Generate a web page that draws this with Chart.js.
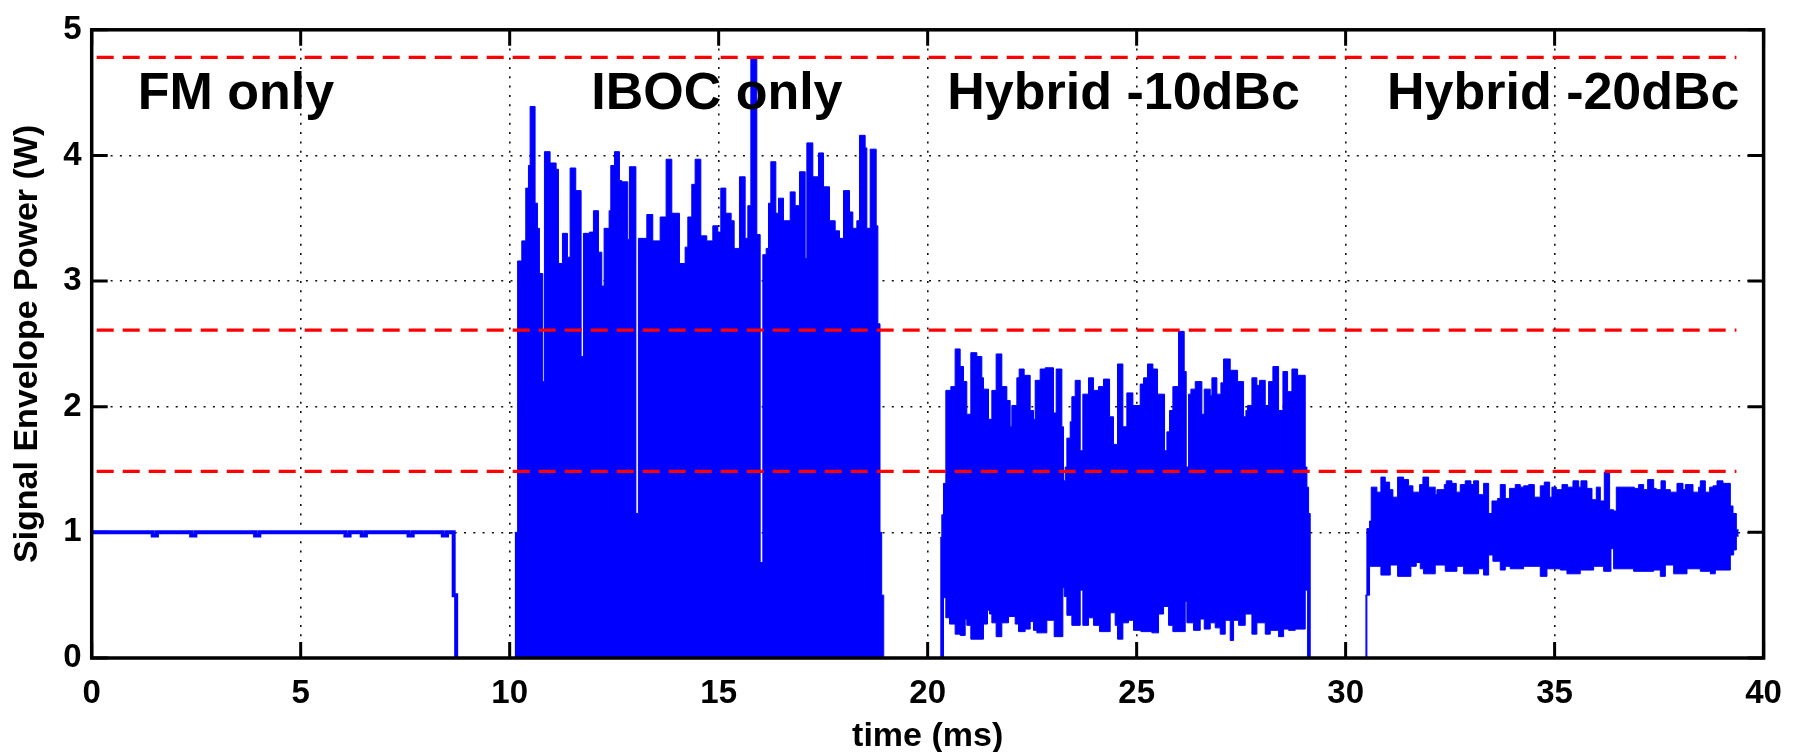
<!DOCTYPE html>
<html>
<head>
<meta charset="utf-8">
<title>Signal envelope power</title>
<script src="https://cdn.jsdelivr.net/npm/chart.js@4.4.1/dist/chart.umd.min.js"></script>
<style>
  html, body { margin: 0; padding: 0; background: #fff; }
</style>
</head>
<body>
<canvas id="chart" width="1798" height="752"></canvas>
<script>
// ------------------- Data -------------------
// FM only: flat envelope at 1 W with a few tiny notches
const fmT = [0, 1.46, 1.56, 2.38, 2.48, 3.91, 4.01, 6.07, 6.17, 6.46, 6.56, 7.58, 7.68, 8.40, 8.50, 8.66, 8.72];
const fmP = [1.0, 0.975, 1.0, 0.975, 1.0, 0.975, 1.0, 0.975, 1.0, 0.975, 1.0, 0.975, 1.0, 0.975, 1.0, 0.5, 0];

// IBOC only: upper envelope (lower envelope sits on zero)
const ibocT = [10.12, 10.19, 10.29, 10.385, 10.449, 10.489, 10.608, 10.664, 10.712, 10.792, 10.832, 10.967,
  11.111, 11.167, 11.262, 11.382, 11.446, 11.581, 11.709, 11.765, 11.908, 12.004, 12.124, 12.204, 12.259,
  12.379, 12.419, 12.507, 12.626, 12.682, 12.826, 12.866, 13.02, 13.08, 13.281, 13.424, 13.600, 13.743,
  13.879, 14.062, 14.198, 14.262, 14.357, 14.437, 14.573, 14.716, 14.860, 14.980, 15.051, 15.171, 15.299,
  15.371, 15.498, 15.634, 15.698, 15.770, 15.913, 15.993, 16.057, 16.136, 16.192, 16.248, 16.368, 16.431,
  16.551, 16.711, 16.830, 16.934, 17.070, 17.110, 17.253, 17.389, 17.509, 17.652, 17.788, 17.891, 17.987,
  18.131, 18.210, 18.306, 18.370, 18.505, 18.545, 18.625, 18.769, 18.809, 18.86, 18.90, 18.95];
const ibocP = [1.0, 3.16, 3.32, 3.74, 3.92, 4.39, 3.62, 3.42, 3.06, 2.20, 4.03, 3.94,
  3.89, 3.14, 3.38, 3.19, 3.90, 3.72, 2.40, 3.38, 3.39, 3.56, 3.23, 2.96, 3.42,
  3.56, 3.92, 4.03, 3.80, 3.79, 3.33, 3.91, 1.15, 3.34, 3.53, 3.32, 3.51, 3.97,
  3.54, 3.14, 3.27, 3.51, 3.77, 3.97, 3.36, 3.32, 3.44, 3.39, 3.74, 3.54, 3.48,
  3.26, 3.83, 3.34, 3.60, 4.78, 3.37, 0.76, 3.21, 3.26, 3.62, 3.95, 3.54, 3.66,
  3.48, 3.71, 3.60, 3.87, 3.18, 4.10, 3.83, 4.02, 3.75, 3.48, 3.40, 3.34, 3.72,
  3.55, 3.42, 3.48, 4.16, 4.06, 3.42, 4.05, 3.44, 2.66, 1.0, 0.5, 0];

// Hybrid -10dBc: upper and lower envelope
const hyb10T = [20.299, 20.339, 20.379, 20.435, 20.555, 20.658, 20.778, 20.858, 20.937, 21.033, 21.177, 21.296,
  21.336, 21.456, 21.536, 21.639, 21.775, 21.895, 21.974, 22.014, 22.134, 22.190, 22.309, 22.453, 22.533,
  22.573, 22.692, 22.812, 23.011, 23.075, 23.211, 23.251, 23.291, 23.331, 23.410, 23.450, 23.530, 23.650,
  23.713, 23.849, 23.969, 24.088, 24.208, 24.352, 24.447, 24.543, 24.671, 24.766, 24.910, 25.085, 25.165,
  25.261, 25.389, 25.500, 25.668, 25.724, 25.787, 25.867, 26.003, 26.138, 26.186, 26.242, 26.298, 26.402,
  26.561, 26.617, 26.761, 26.801, 26.920, 27.016, 27.080, 27.239, 27.415, 27.558, 27.614, 27.654, 27.758,
  27.877, 27.941, 28.077, 28.157, 28.260, 28.396, 28.500, 28.611, 28.715, 28.851, 29.034, 29.074, 29.114, 29.154];
const hyb10Hi = [0.96, 1.14, 1.39, 2.13, 2.16, 2.46, 2.32, 2.20, 1.94, 2.43, 2.40, 2.23,
  2.14, 1.90, 2.13, 2.42, 2.16, 2.05, 1.84, 2.01, 2.23, 2.30, 2.25, 1.97, 1.90,
  2.21, 2.30, 2.31, 1.95, 2.30, 1.84, 1.41, 1.52, 1.75, 1.88, 2.08, 2.21, 1.65,
  2.10, 2.23, 2.13, 2.16, 2.22, 1.92, 1.70, 2.34, 1.84, 2.11, 2.01, 2.18, 2.23,
  2.34, 2.30, 2.10, 1.65, 1.80, 1.97, 2.16, 2.60, 2.28, 1.52, 2.10, 2.14, 2.20,
  1.94, 2.14, 2.09, 2.23, 2.10, 2.19, 2.38, 2.29, 2.20, 1.92, 1.97, 2.01, 2.23,
  2.17, 2.21, 2.01, 2.20, 2.32, 1.97, 2.28, 2.12, 2.30, 2.25, 1.52, 1.36, 1.15, 0];
const hyb10LoT = [20.299, 20.379, 20.435, 20.523, 20.658, 20.778, 20.898, 20.937, 21.033, 21.336, 21.432, 21.480,
  21.536, 21.639, 21.775, 21.935, 22.094, 22.174, 22.333, 22.453, 22.533, 22.613, 22.852, 23.027, 23.235,
  23.267, 23.331, 23.450, 23.650, 23.713, 23.849, 23.969, 24.112, 24.367, 24.487, 24.543, 24.671, 24.806,
  24.926, 25.101, 25.365, 25.524, 25.644, 25.764, 25.867, 26.162, 26.202, 26.362, 26.521, 26.617, 26.761,
  26.880, 27.000, 27.120, 27.239, 27.319, 27.439, 27.598, 27.758, 27.877, 28.077, 28.197, 28.396, 28.516,
  28.635, 28.795, 29.034, 29.090, 29.154];
const hyb10Lo = [0, 0.48, 0.32, 0.27, 0.19, 0.18, 0.31, 0.26, 0.15, 0.27, 0.38, 0.35,
  0.28, 0.17, 0.28, 0.33, 0.27, 0.21, 0.23, 0.29, 0.22, 0.20, 0.30, 0.17, 0.56,
  0.49, 0.34, 0.26, 0.54, 0.26, 0.32, 0.26, 0.21, 0.36, 0.26, 0.15, 0.28, 0.30,
  0.22, 0.21, 0.20, 0.35, 0.41, 0.26, 0.21, 0.45, 0.28, 0.22, 0.31, 0.23, 0.28,
  0.24, 0.19, 0.30, 0.14, 0.30, 0.26, 0.35, 0.19, 0.28, 0.19, 0.22, 0.17, 0.23,
  0.22, 0.23, 0.54, 0, 0];

// Hybrid -20dBc: upper and lower envelope
const hyb20T = [30.469, 30.509, 30.573, 30.613, 30.748, 30.844, 30.948, 31.052, 31.131, 31.243, 31.387, 31.506,
  31.610, 31.770, 31.849, 31.985, 32.144, 32.184, 32.360, 32.408, 32.543, 32.647, 32.743, 32.862, 32.998,
  33.062, 33.181, 33.301, 33.421, 33.501, 33.636, 33.700, 33.820, 33.923, 34.059, 34.179, 34.258, 34.378,
  34.514, 34.657, 34.753, 34.881, 34.936, 35.040, 35.176, 35.311, 35.439, 35.575, 35.630, 35.774, 35.894,
  35.997, 36.093, 36.189, 36.316, 36.412, 36.476, 36.907, 37.011, 37.130, 37.226, 37.370, 37.433, 37.545,
  37.649, 37.768, 37.928, 38.071, 38.127, 38.311, 38.446, 38.486, 38.606, 38.710, 38.789, 38.885, 39.029,
  39.204, 39.268, 39.348, 39.403];
const hyb20Hi = [0.50, 1.03, 1.09, 1.36, 1.32, 1.44, 1.40, 1.34, 1.28, 1.44, 1.42, 1.37,
  1.32, 1.38, 1.44, 1.36, 1.30, 1.34, 1.38, 1.41, 1.39, 1.32, 1.38, 1.41, 1.38,
  1.41, 1.30, 1.39, 1.15, 1.25, 1.27, 1.38, 1.27, 1.35, 1.38, 1.36, 1.37, 1.38,
  1.28, 1.37, 1.40, 1.28, 1.36, 1.34, 1.38, 1.36, 1.41, 1.36, 1.41, 1.35, 1.26,
  1.36, 1.25, 1.48, 1.18, 1.17, 1.36, 1.35, 1.38, 1.34, 1.42, 1.35, 1.34, 1.41,
  1.34, 1.32, 1.39, 1.34, 1.38, 1.32, 1.36, 1.41, 1.32, 1.36, 1.37, 1.41, 1.39,
  1.21, 1.15, 1.02, 1.02];
const hyb20LoT = [30.469, 30.509, 30.573, 30.844, 31.068, 31.243, 31.562, 31.690, 31.786, 31.865, 32.144, 32.384,
  32.663, 32.823, 33.181, 33.301, 33.421, 33.524, 33.700, 33.820, 33.939, 34.258, 34.657, 34.817, 35.136,
  35.295, 35.614, 35.934, 36.173, 36.348, 36.412, 36.891, 37.370, 37.529, 37.649, 37.848, 38.167, 38.486,
  38.726, 38.845, 39.204, 39.284, 39.348, 39.403];
const hyb20Lo = [0, 0.50, 0.73, 0.66, 0.74, 0.65, 0.73, 0.76, 0.71, 0.67, 0.74, 0.69,
  0.73, 0.67, 0.71, 0.66, 0.82, 0.77, 0.70, 0.73, 0.71, 0.73, 0.65, 0.71, 0.70,
  0.67, 0.70, 0.73, 0.69, 0.87, 0.71, 0.69, 0.70, 0.65, 0.74, 0.67, 0.71, 0.69,
  0.67, 0.70, 0.82, 0.86, 0.97, 0.97];

// red dashed reference levels
const refLevels = [4.78, 2.61, 1.485];
const refSpan = [0.12, 39.35];

// region labels
const regionNames = ["FM only", "IBOC only", "Hybrid -10dBc", "Hybrid -20dBc"];
const regionX = [1.10, 11.95, 20.47, 30.99];
const regionY = 4.37;

// ------------------- Helpers -------------------
const BLUE = "#0000ff";
const RED = "#ff0000";
const FONT = "'Liberation Sans', Arial, Helvetica, sans-serif";

function pts(ts, vs) {
  return ts.map((t, i) => ({ x: t, y: vs[i] }));
}

function stepSet(ts, vs, extra) {
  return Object.assign({
    data: pts(ts, vs),
    stepped: "before",
    borderColor: BLUE,
    backgroundColor: BLUE,
    borderWidth: 1,
    pointRadius: 0,
    fill: false,
    order: 2
  }, extra || {});
}

// ------------------- Frame, ticks and labels -------------------
const framePlugin = {
  id: "frame",
  beforeDatasetsDraw(chart) {
    const { ctx, chartArea: a, scales: { x, y } } = chart;
    const len = 16;
    ctx.save();
    ctx.strokeStyle = "#000";
    ctx.lineWidth = 3;
    ctx.beginPath();
    x.ticks.forEach(t => {
      const px = x.getPixelForValue(t.value);
      ctx.moveTo(px, a.bottom); ctx.lineTo(px, a.bottom - len);
      ctx.moveTo(px, a.top); ctx.lineTo(px, a.top + len);
    });
    y.ticks.forEach(t => {
      const py = y.getPixelForValue(t.value);
      ctx.moveTo(a.left, py); ctx.lineTo(a.left + len, py);
      ctx.moveTo(a.right, py); ctx.lineTo(a.right - len, py);
    });
    ctx.stroke();
    ctx.restore();
  },
  afterDatasetsDraw(chart) {
    const { ctx, chartArea: a } = chart;
    ctx.save();
    ctx.strokeStyle = "#000";
    ctx.lineWidth = 3.5;
    ctx.strokeRect(a.left, a.top, a.right - a.left, a.bottom - a.top);
    ctx.restore();
  },
  afterDraw(chart) {
    const { ctx, scales: { x, y } } = chart;
    ctx.save();
    ctx.fillStyle = "#000";
    ctx.font = "bold 52px " + FONT;
    ctx.textAlign = "left";
    ctx.textBaseline = "alphabetic";
    regionNames.forEach((name, i) => {
      ctx.fillText(name, x.getPixelForValue(regionX[i]), y.getPixelForValue(regionY));
    });
    ctx.restore();
  }
};

// ------------------- Chart -------------------
const datasets = [
  stepSet(fmT, fmP, { borderWidth: 4 }),
  stepSet(ibocT, ibocP, { fill: "origin" }),
  stepSet(hyb10LoT, hyb10Lo),
  stepSet(hyb10T, hyb10Hi, { fill: "-1" }),
  stepSet(hyb20LoT, hyb20Lo),
  stepSet(hyb20T, hyb20Hi, { fill: "-1" })
];
refLevels.forEach(level => {
  datasets.push({
    data: [{ x: refSpan[0], y: level }, { x: refSpan[1], y: level }],
    borderColor: RED,
    borderWidth: 3.2,
    borderDash: [17, 9],
    pointRadius: 0,
    fill: false,
    order: 0
  });
});

Chart.defaults.font.family = FONT;
Chart.defaults.color = "#000";

new Chart(document.getElementById("chart"), {
  type: "line",
  data: { datasets },
  options: {
    responsive: false,
    animation: false,
    events: [],
    layout: { padding: { top: 17, right: 34.4, left: 0, bottom: 0 } },
    plugins: { legend: { display: false }, tooltip: { enabled: false } },
    scales: {
      x: {
        type: "linear",
        min: 0,
        max: 40,
        ticks: { stepSize: 5, padding: 15.8, font: { size: 33, weight: "bold", lineHeight: 1.2 }, color: "#000", maxRotation: 0 },
        grid: { color: "#111", lineWidth: 1.6, drawTicks: false },
        border: { display: false, dash: [2, 7.3] },
        title: { display: true, text: "time (ms)", font: { size: 34, weight: "bold", lineHeight: 0.9 }, color: "#000", padding: 0 },
        afterFit: s => { s.height = 94; }
      },
      y: {
        min: 0,
        max: 5,
        ticks: { stepSize: 1, padding: 10, font: { size: 33, weight: "bold" }, color: "#000" },
        grid: { color: "#111", lineWidth: 1.6, drawTicks: false },
        border: { display: false, dash: [2, 7.3] },
        title: { display: true, text: "Signal Envelope Power (W)", font: { size: 34, weight: "bold", lineHeight: 1.2 }, color: "#000", padding: { top: 7, bottom: 0 } },
        afterFit: s => { s.width = 91.7; }
      }
    }
  },
  plugins: [framePlugin]
});
</script>
</body>
</html>
